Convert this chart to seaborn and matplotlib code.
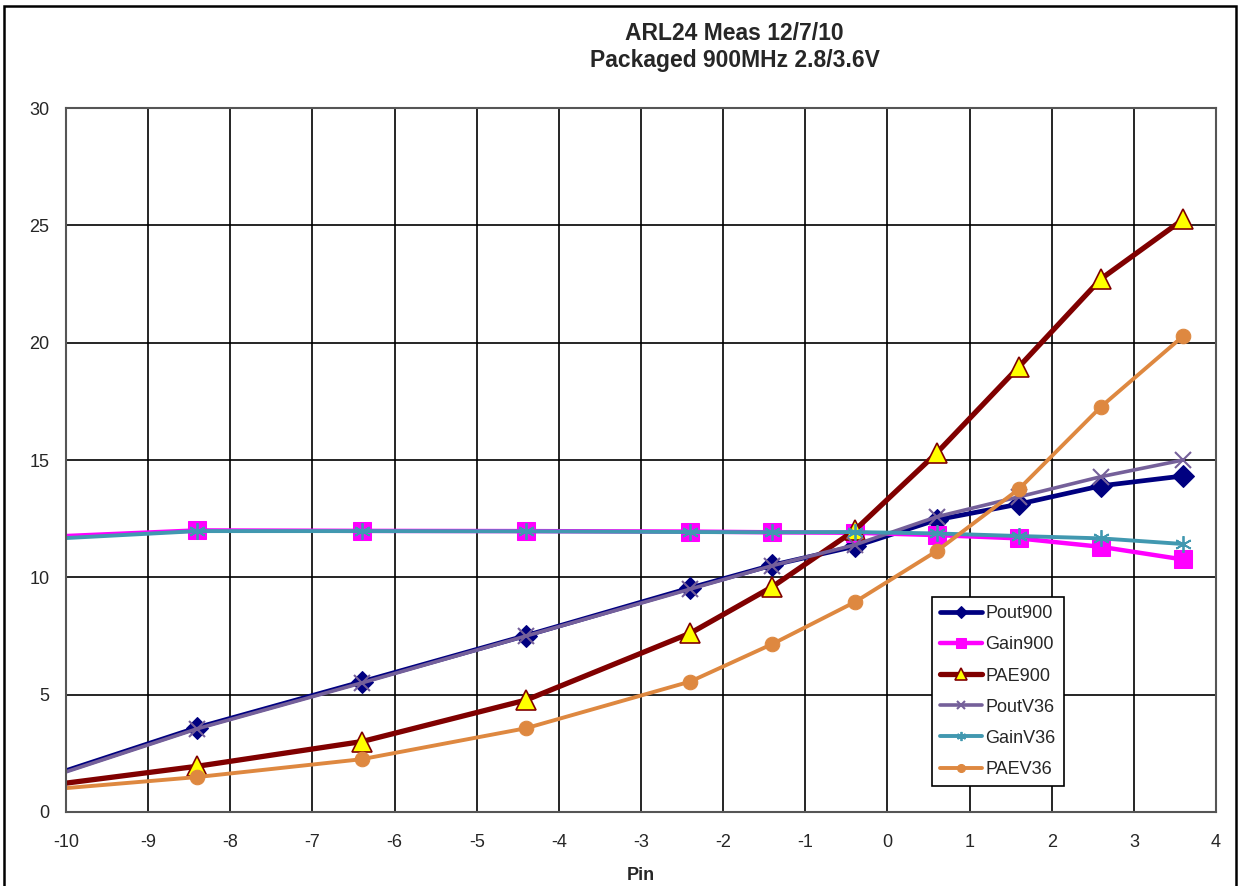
import matplotlib
matplotlib.use("Agg")
import matplotlib.pyplot as plt
import seaborn as sns
import pandas as pd
from matplotlib.patches import Rectangle

# ---- data ----
pin = [-10.4, -8.4, -6.4, -4.4, -2.4, -1.4, -0.4, 0.6, 1.6, 2.6, 3.6]
pout900 = [1.3, 3.6, 5.55, 7.52, 9.55, 10.52, 11.32, 12.45, 13.12, 13.9, 14.32]
gain900 = [11.7, 12.0, 11.98, 11.97, 11.95, 11.92, 11.9, 11.8, 11.66, 11.3, 10.76]
pae900 = [1.05, 1.95, 3.0, 4.77, 7.62, 9.6, 12.0, 15.3, 18.97, 22.72, 25.25]
poutv36 = [1.25, 3.55, 5.5, 7.5, 9.5, 10.5, 11.38, 12.58, 13.43, 14.29, 15.0]
gainv36 = [11.6, 11.97, 11.97, 11.96, 11.93, 11.92, 11.93, 11.87, 11.76, 11.66, 11.42]
paev36 = [0.9, 1.49, 2.25, 3.57, 5.56, 7.16, 8.94, 11.12, 13.76, 17.27, 20.28]

x_ticks = list(range(-10, 5))
y_ticks = [0, 5, 10, 15, 20, 25, 30]
title = "ARL24 Meas 12/7/10\nPackaged 900MHz 2.8/3.6V"

sns.set_style("white")
plt.rcParams["font.family"] = ["Liberation Sans", "DejaVu Sans"]

fig = plt.figure(figsize=(12.39, 8.86), dpi=100)
ax = fig.add_axes([66/1239, 1-812/886, (1216-66)/1239, (812-108)/886])

styles = [
    ("Pout900", pout900, dict(color="#000080", lw=3.4, marker="D", ms=11, mfc="#000080", mec="#000080")),
    ("Gain900", gain900, dict(color="#FF00FF", lw=3.2, marker="s", ms=13, mfc="#FF00FF", mec="#FF00FF")),
    ("PAE900", pae900, dict(color="#800000", lw=3.8, marker="^", ms=15, mfc="#FFFF00", mec="#800000", mew=1.2)),
    ("PoutV36", poutv36, dict(color="#75609A", lw=2.6, marker="x", ms=11, mfc="#75609A", mec="#75609A", mew=1.5)),
    ("GainV36", gainv36, dict(color="#4198B0", lw=2.8, marker=(6, 2, 0), ms=12, mfc="#4198B0", mec="#4198B0", mew=1.3)),
    ("PAEV36", paev36, dict(color="#DE8840", lw=2.8, marker="o", ms=10.5, mfc="#DE8840", mec="#DE8840")),
]

for name, vals, kw in styles:
    df = pd.DataFrame({"Pin": pin, "val": vals})
    sns.lineplot(data=df, x="Pin", y="val", ax=ax, label=name, **kw)

ax.set_xlim(-10, 4)
ax.set_ylim(0, 30)
ax.set_xticks(x_ticks)
ax.set_yticks(y_ticks)
ax.set_xticklabels([str(v) for v in x_ticks], fontsize=13)
ax.set_yticklabels([str(v) for v in y_ticks], fontsize=13)
ax.grid(True, color="black", lw=1.2)
ax.set_axisbelow(True)
ax.tick_params(axis="x", direction="out", length=5, width=1, color="black", pad=11)
ax.tick_params(axis="y", direction="out", length=5, width=1, color="black", pad=7)
ax.set_xlabel("Pin", fontsize=13, fontweight="bold", labelpad=11)
ax.set_ylabel("")
for s in ax.spines.values():
    s.set_color("#555555")
    s.set_linewidth(1.5)

leg = ax.legend(loc="lower left", bbox_to_anchor=(0.753, 0.037), fontsize=13,
                frameon=True, fancybox=False, edgecolor="black", framealpha=1,
                markerscale=0.55, handlelength=2.3, labelspacing=0.78,
                borderpad=0.45, handletextpad=0.2, borderaxespad=0)
leg.get_frame().set_linewidth(1.2)

fig.text(0.593, 1-47/886, title, ha="center", va="center", fontsize=16.5,
         fontweight="bold", linespacing=1.25)

fig.patches.append(Rectangle((4/1239, -0.02), (1236-4)/1239, 1.02-6/886,
                             transform=fig.transFigure, fill=False,
                             edgecolor="black", lw=1.8))

fig.savefig("out.png", dpi=100)
